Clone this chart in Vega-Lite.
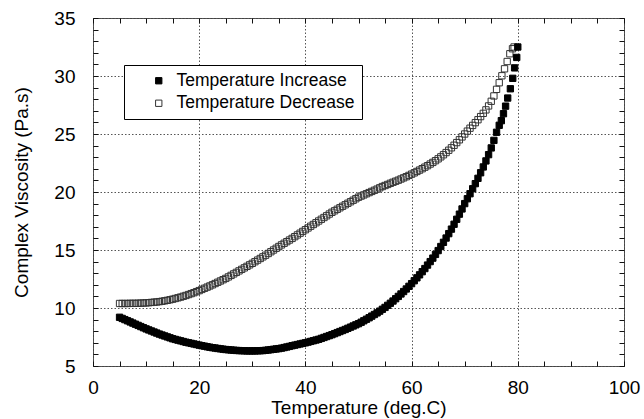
{
"$schema": "https://vega.github.io/schema/vega-lite/v6.json",
"width": 531, "height": 348,
"autosize": "none",
"padding": {"left": 93, "top": 18, "right": 20, "bottom": 53},
"background": "#ffffff",
"config": {
  "font": "Liberation Sans",
  "view": {"stroke": "#444", "strokeWidth": 1},
  "axis": {"domain": false, "labelFont": "Liberation Sans", "labelFontSize": 19, "labelColor": "#000", "titleFont": "Liberation Sans", "titleFontSize": 19, "titleFontWeight": "normal", "titleColor": "#000", "gridColor": "#555", "gridDash": [1.5, 2], "gridWidth": 1, "labelOverlap": false, "labelFlush": false}
},
"data": {"values": [
{"s":"dec","t":5,"v":10.39},{"s":"dec","t":5.5,"v":10.39},{"s":"dec","t":6,"v":10.39},{"s":"dec","t":6.5,"v":10.39},{"s":"dec","t":7,"v":10.4},{"s":"dec","t":7.5,"v":10.4},{"s":"dec","t":8,"v":10.4},{"s":"dec","t":8.5,"v":10.41},{"s":"dec","t":9,"v":10.42},{"s":"dec","t":9.5,"v":10.43},
{"s":"dec","t":10,"v":10.44},{"s":"dec","t":10.5,"v":10.46},{"s":"dec","t":11,"v":10.48},{"s":"dec","t":11.5,"v":10.5},{"s":"dec","t":12,"v":10.52},{"s":"dec","t":12.5,"v":10.55},{"s":"dec","t":13,"v":10.58},{"s":"dec","t":13.5,"v":10.62},{"s":"dec","t":14,"v":10.66},{"s":"dec","t":14.5,"v":10.71},
{"s":"dec","t":15,"v":10.76},{"s":"dec","t":15.5,"v":10.82},{"s":"dec","t":16,"v":10.88},{"s":"dec","t":16.5,"v":10.94},{"s":"dec","t":17,"v":11.01},{"s":"dec","t":17.5,"v":11.08},{"s":"dec","t":18,"v":11.16},{"s":"dec","t":18.5,"v":11.24},{"s":"dec","t":19,"v":11.32},{"s":"dec","t":19.5,"v":11.41},
{"s":"dec","t":20,"v":11.5},{"s":"dec","t":20.5,"v":11.6},{"s":"dec","t":21,"v":11.7},{"s":"dec","t":21.5,"v":11.8},{"s":"dec","t":22,"v":11.9},{"s":"dec","t":22.5,"v":12.0},{"s":"dec","t":23,"v":12.11},{"s":"dec","t":23.5,"v":12.22},{"s":"dec","t":24,"v":12.33},{"s":"dec","t":24.5,"v":12.44},
{"s":"dec","t":25,"v":12.55},{"s":"dec","t":25.5,"v":12.68},{"s":"dec","t":26,"v":12.81},{"s":"dec","t":26.5,"v":12.94},{"s":"dec","t":27,"v":13.07},{"s":"dec","t":27.5,"v":13.2},{"s":"dec","t":28,"v":13.33},{"s":"dec","t":28.5,"v":13.46},{"s":"dec","t":29,"v":13.59},{"s":"dec","t":29.5,"v":13.72},
{"s":"dec","t":30,"v":13.85},{"s":"dec","t":30.5,"v":13.99},{"s":"dec","t":31,"v":14.13},{"s":"dec","t":31.5,"v":14.27},{"s":"dec","t":32,"v":14.41},{"s":"dec","t":32.5,"v":14.55},{"s":"dec","t":33,"v":14.7},{"s":"dec","t":33.5,"v":14.85},{"s":"dec","t":34,"v":15.0},{"s":"dec","t":34.5,"v":15.15},
{"s":"dec","t":35,"v":15.3},{"s":"dec","t":35.5,"v":15.44},{"s":"dec","t":36,"v":15.58},{"s":"dec","t":36.5,"v":15.72},{"s":"dec","t":37,"v":15.86},{"s":"dec","t":37.5,"v":16.0},{"s":"dec","t":38,"v":16.15},{"s":"dec","t":38.5,"v":16.3},{"s":"dec","t":39,"v":16.45},{"s":"dec","t":39.5,"v":16.6},
{"s":"dec","t":40,"v":16.75},{"s":"dec","t":40.5,"v":16.9},{"s":"dec","t":41,"v":17.05},{"s":"dec","t":41.5,"v":17.2},{"s":"dec","t":42,"v":17.35},{"s":"dec","t":42.5,"v":17.5},{"s":"dec","t":43,"v":17.65},{"s":"dec","t":43.5,"v":17.8},{"s":"dec","t":44,"v":17.95},{"s":"dec","t":44.5,"v":18.1},
{"s":"dec","t":45,"v":18.25},{"s":"dec","t":45.5,"v":18.38},{"s":"dec","t":46,"v":18.51},{"s":"dec","t":46.5,"v":18.64},{"s":"dec","t":47,"v":18.77},{"s":"dec","t":47.5,"v":18.9},{"s":"dec","t":48,"v":19.03},{"s":"dec","t":48.5,"v":19.16},{"s":"dec","t":49,"v":19.29},{"s":"dec","t":49.5,"v":19.42},
{"s":"dec","t":50,"v":19.55},{"s":"dec","t":50.5,"v":19.65},{"s":"dec","t":51,"v":19.75},{"s":"dec","t":51.5,"v":19.85},{"s":"dec","t":52,"v":19.95},{"s":"dec","t":52.5,"v":20.05},{"s":"dec","t":53,"v":20.15},{"s":"dec","t":53.5,"v":20.25},{"s":"dec","t":54,"v":20.36},{"s":"dec","t":54.5,"v":20.47},
{"s":"dec","t":55,"v":20.56},{"s":"dec","t":55.5,"v":20.65},{"s":"dec","t":56,"v":20.75},{"s":"dec","t":56.5,"v":20.84},{"s":"dec","t":57,"v":20.93},{"s":"dec","t":57.5,"v":21.02},{"s":"dec","t":58,"v":21.12},{"s":"dec","t":58.5,"v":21.22},{"s":"dec","t":59,"v":21.32},{"s":"dec","t":59.5,"v":21.43},
{"s":"dec","t":60,"v":21.54},{"s":"dec","t":60.5,"v":21.65},{"s":"dec","t":61,"v":21.77},{"s":"dec","t":61.5,"v":21.89},{"s":"dec","t":62,"v":22.01},{"s":"dec","t":62.5,"v":22.14},{"s":"dec","t":63,"v":22.27},{"s":"dec","t":63.5,"v":22.41},{"s":"dec","t":64,"v":22.55},{"s":"dec","t":64.5,"v":22.7},
{"s":"dec","t":65,"v":22.86},{"s":"dec","t":65.5,"v":23.03},{"s":"dec","t":66,"v":23.21},{"s":"dec","t":66.5,"v":23.4},{"s":"dec","t":67,"v":23.6},{"s":"dec","t":67.5,"v":23.81},{"s":"dec","t":68,"v":24.03},{"s":"dec","t":68.5,"v":24.26},{"s":"dec","t":69,"v":24.5},{"s":"dec","t":69.5,"v":24.75},
{"s":"dec","t":70,"v":25.0},{"s":"dec","t":70.5,"v":25.25},{"s":"dec","t":71,"v":25.5},{"s":"dec","t":71.5,"v":25.74},{"s":"dec","t":72,"v":25.98},{"s":"dec","t":72.5,"v":26.23},{"s":"dec","t":73,"v":26.5},{"s":"dec","t":73.5,"v":26.78},{"s":"dec","t":74,"v":27.08},{"s":"dec","t":74.5,"v":27.42},
{"s":"dec","t":75,"v":27.82},{"s":"dec","t":75.5,"v":28.28},{"s":"dec","t":76,"v":28.85},{"s":"dec","t":76.5,"v":29.42},{"s":"dec","t":77,"v":30.02},{"s":"dec","t":77.5,"v":30.62},{"s":"dec","t":78,"v":31.25},{"s":"dec","t":78.5,"v":31.92},{"s":"dec","t":79,"v":32.35},{"s":"dec","t":79.3,"v":32.5},
{"s":"inc","t":5,"v":9.2},{"s":"inc","t":5.5,"v":9.1},{"s":"inc","t":6,"v":9.0},{"s":"inc","t":6.5,"v":8.9},{"s":"inc","t":7,"v":8.8},{"s":"inc","t":7.5,"v":8.7},{"s":"inc","t":8,"v":8.6},{"s":"inc","t":8.5,"v":8.5},{"s":"inc","t":9,"v":8.4},{"s":"inc","t":9.5,"v":8.3},
{"s":"inc","t":10,"v":8.2},{"s":"inc","t":10.5,"v":8.11},{"s":"inc","t":11,"v":8.02},{"s":"inc","t":11.5,"v":7.93},{"s":"inc","t":12,"v":7.84},{"s":"inc","t":12.5,"v":7.75},{"s":"inc","t":13,"v":7.67},{"s":"inc","t":13.5,"v":7.59},{"s":"inc","t":14,"v":7.51},{"s":"inc","t":14.5,"v":7.43},
{"s":"inc","t":15,"v":7.35},{"s":"inc","t":15.5,"v":7.29},{"s":"inc","t":16,"v":7.23},{"s":"inc","t":16.5,"v":7.17},{"s":"inc","t":17,"v":7.11},{"s":"inc","t":17.5,"v":7.05},{"s":"inc","t":18,"v":7.0},{"s":"inc","t":18.5,"v":6.95},{"s":"inc","t":19,"v":6.9},{"s":"inc","t":19.5,"v":6.85},
{"s":"inc","t":20,"v":6.8},{"s":"inc","t":20.5,"v":6.75},{"s":"inc","t":21,"v":6.71},{"s":"inc","t":21.5,"v":6.66},{"s":"inc","t":22,"v":6.62},{"s":"inc","t":22.5,"v":6.58},{"s":"inc","t":23,"v":6.55},{"s":"inc","t":23.5,"v":6.51},{"s":"inc","t":24,"v":6.48},{"s":"inc","t":24.5,"v":6.45},
{"s":"inc","t":25,"v":6.42},{"s":"inc","t":25.5,"v":6.4},{"s":"inc","t":26,"v":6.38},{"s":"inc","t":26.5,"v":6.36},{"s":"inc","t":27,"v":6.34},{"s":"inc","t":27.5,"v":6.33},{"s":"inc","t":28,"v":6.32},{"s":"inc","t":28.5,"v":6.31},{"s":"inc","t":29,"v":6.3},{"s":"inc","t":29.5,"v":6.3},
{"s":"inc","t":30,"v":6.3},{"s":"inc","t":30.5,"v":6.3},{"s":"inc","t":31,"v":6.31},{"s":"inc","t":31.5,"v":6.32},{"s":"inc","t":32,"v":6.33},{"s":"inc","t":32.5,"v":6.35},{"s":"inc","t":33,"v":6.38},{"s":"inc","t":33.5,"v":6.41},{"s":"inc","t":34,"v":6.44},{"s":"inc","t":34.5,"v":6.47},
{"s":"inc","t":35,"v":6.5},{"s":"inc","t":35.5,"v":6.54},{"s":"inc","t":36,"v":6.59},{"s":"inc","t":36.5,"v":6.64},{"s":"inc","t":37,"v":6.69},{"s":"inc","t":37.5,"v":6.75},{"s":"inc","t":38,"v":6.8},{"s":"inc","t":38.5,"v":6.85},{"s":"inc","t":39,"v":6.9},{"s":"inc","t":39.5,"v":6.95},
{"s":"inc","t":40,"v":7.0},{"s":"inc","t":40.5,"v":7.06},{"s":"inc","t":41,"v":7.12},{"s":"inc","t":41.5,"v":7.18},{"s":"inc","t":42,"v":7.24},{"s":"inc","t":42.5,"v":7.3},{"s":"inc","t":43,"v":7.38},{"s":"inc","t":43.5,"v":7.46},{"s":"inc","t":44,"v":7.54},{"s":"inc","t":44.5,"v":7.62},
{"s":"inc","t":45,"v":7.7},{"s":"inc","t":45.5,"v":7.79},{"s":"inc","t":46,"v":7.88},{"s":"inc","t":46.5,"v":7.97},{"s":"inc","t":47,"v":8.06},{"s":"inc","t":47.5,"v":8.15},{"s":"inc","t":48,"v":8.25},{"s":"inc","t":48.5,"v":8.35},{"s":"inc","t":49,"v":8.45},{"s":"inc","t":49.5,"v":8.55},
{"s":"inc","t":50,"v":8.65},{"s":"inc","t":50.5,"v":8.77},{"s":"inc","t":51,"v":8.9},{"s":"inc","t":51.5,"v":9.03},{"s":"inc","t":52,"v":9.16},{"s":"inc","t":52.5,"v":9.3},{"s":"inc","t":53,"v":9.44},{"s":"inc","t":53.5,"v":9.58},{"s":"inc","t":54,"v":9.73},{"s":"inc","t":54.5,"v":9.89},
{"s":"inc","t":55,"v":10.05},{"s":"inc","t":55.5,"v":10.23},{"s":"inc","t":56,"v":10.41},{"s":"inc","t":56.5,"v":10.6},{"s":"inc","t":57,"v":10.8},{"s":"inc","t":57.5,"v":11.0},{"s":"inc","t":58,"v":11.21},{"s":"inc","t":58.5,"v":11.42},{"s":"inc","t":59,"v":11.64},{"s":"inc","t":59.5,"v":11.87},
{"s":"inc","t":60,"v":12.1},{"s":"inc","t":60.5,"v":12.35},{"s":"inc","t":61,"v":12.6},{"s":"inc","t":61.5,"v":12.86},{"s":"inc","t":62,"v":13.13},{"s":"inc","t":62.5,"v":13.4},{"s":"inc","t":63,"v":13.7},{"s":"inc","t":63.5,"v":14.0},{"s":"inc","t":64,"v":14.3},{"s":"inc","t":64.5,"v":14.62},
{"s":"inc","t":65,"v":14.95},{"s":"inc","t":65.5,"v":15.3},{"s":"inc","t":66,"v":15.66},{"s":"inc","t":66.5,"v":16.03},{"s":"inc","t":67,"v":16.41},{"s":"inc","t":67.5,"v":16.8},{"s":"inc","t":68,"v":17.22},{"s":"inc","t":68.5,"v":17.65},{"s":"inc","t":69,"v":18.09},{"s":"inc","t":69.5,"v":18.54},
{"s":"inc","t":70,"v":19.0},{"s":"inc","t":70.5,"v":19.42},{"s":"inc","t":71,"v":19.85},{"s":"inc","t":71.5,"v":20.28},{"s":"inc","t":72,"v":20.72},{"s":"inc","t":72.5,"v":21.18},{"s":"inc","t":73,"v":21.66},{"s":"inc","t":73.5,"v":22.16},{"s":"inc","t":74,"v":22.68},{"s":"inc","t":74.5,"v":23.22},
{"s":"inc","t":75,"v":23.8},{"s":"inc","t":75.5,"v":24.45},{"s":"inc","t":76,"v":25.15},{"s":"inc","t":76.5,"v":25.75},{"s":"inc","t":76.9,"v":26.15},{"s":"inc","t":77.3,"v":26.75},{"s":"inc","t":77.7,"v":27.4},{"s":"inc","t":78.1,"v":28.1},{"s":"inc","t":78.6,"v":28.9},{"s":"inc","t":79.05,"v":29.8},
{"s":"inc","t":79.4,"v":30.7},{"s":"inc","t":79.8,"v":31.6},{"s":"inc","t":80,"v":32.5}
]},
"layer": [
  {
    "mark": {"type": "point", "opacity": 0},
    "encoding": {
      "x": {"field": "t", "type": "quantitative", "scale": {"domain": [0, 100], "nice": false},
        "axis": {"orient": "bottom", "values": [0,20,40,60,80,100], "grid": true, "ticks": false, "labels": false, "title": null, "minExtent": 0, "maxExtent": 0}},
      "y": {"field": "v", "type": "quantitative", "scale": {"domain": [5, 35], "nice": false},
        "axis": {"orient": "left", "values": [5,10,15,20,25,30,35], "grid": true, "ticks": false, "labels": false, "title": null, "minExtent": 0, "maxExtent": 0}}
    }
  },
  {
    "mark": {"type": "point", "shape": "square", "size": 40, "strokeWidth": 1, "opacity": 1},
    "encoding": {
      "x": {"field": "t", "type": "quantitative",
        "axis": {"orient": "bottom", "title": "Temperature (deg.C)", "grid": false, "offset": -5, "tickSize": 5, "tickColor": "#111", "tickWidth": 1, "values": [0,5,10,15,20,25,30,35,40,45,50,55,60,65,70,75,80,85,90,95,100],
          "labelExpr": "datum.value % 20 === 0 ? datum.label : ''",
          "labelPadding": 12, "titleY": 52.5, "titleBaseline": "alphabetic"}},
      "y": {"field": "v", "type": "quantitative",
        "axis": {"orient": "left", "title": "Complex Viscosity (Pa.s)", "grid": false, "offset": -5, "tickSize": 5, "tickColor": "#111", "tickWidth": 1, "values": [5,6,7,8,9,10,11,12,13,14,15,16,17,18,19,20,21,22,23,24,25,26,27,28,29,30,31,32,33,34,35],
          "labelExpr": "datum.value % 5 === 0 ? datum.label : ''",
          "labelPadding": 18, "titleX": -70.5, "titleY": 174, "titleBaseline": "alphabetic"}},
      "fill": {"field": "s", "type": "nominal", "scale": {"domain": ["inc", "dec"], "range": ["#000000", "transparent"]},
        "legend": {"orient": "none", "legendX": 31, "legendY": 47, "title": null, "direction": "vertical", "fillColor": "#ffffff", "strokeColor": "#000000", "padding": 7, "labelFontSize": 17.5, "labelFont": "Liberation Sans", "labelColor": "#000", "labelLimit": 400, "symbolType": "square", "symbolSize": 40, "symbolOffset": 19, "labelOffset": 9, "rowPadding": 3.5, "symbolStrokeWidth": 1,
          "labelExpr": "datum.label == 'inc' ? 'Temperature Increase' : 'Temperature Decrease'"}},
      "stroke": {"field": "s", "type": "nominal", "scale": {"domain": ["inc", "dec"], "range": ["#000000", "#333333"]},
        "legend": {"orient": "none", "legendX": 31, "legendY": 47, "title": null, "direction": "vertical", "fillColor": "#ffffff", "strokeColor": "#000000", "padding": 7, "labelFontSize": 17.5, "labelFont": "Liberation Sans", "labelColor": "#000", "labelLimit": 400, "symbolType": "square", "symbolSize": 40, "symbolOffset": 19, "labelOffset": 9, "rowPadding": 3.5, "symbolStrokeWidth": 1,
          "labelExpr": "datum.label == 'inc' ? 'Temperature Increase' : 'Temperature Decrease'"}}
    }
  },
  {
    "mark": {"type": "point", "opacity": 0},
    "encoding": {
      "x": {"field": "t", "type": "quantitative", "axis": {"orient": "top", "offset": -5, "tickSize": 5, "tickColor": "#111", "tickWidth": 1, "values": [0,5,10,15,20,25,30,35,40,45,50,55,60,65,70,75,80,85,90,95,100], "labels": false, "grid": false, "title": null}},
      "y": {"field": "v", "type": "quantitative", "axis": {"orient": "right", "offset": -5, "tickSize": 5, "tickColor": "#111", "tickWidth": 1, "values": [5,6,7,8,9,10,11,12,13,14,15,16,17,18,19,20,21,22,23,24,25,26,27,28,29,30,31,32,33,34,35], "labels": false, "grid": false, "title": null}}
    }
  }
],
"resolve": {"axis": {"x": "independent", "y": "independent"}}
}
